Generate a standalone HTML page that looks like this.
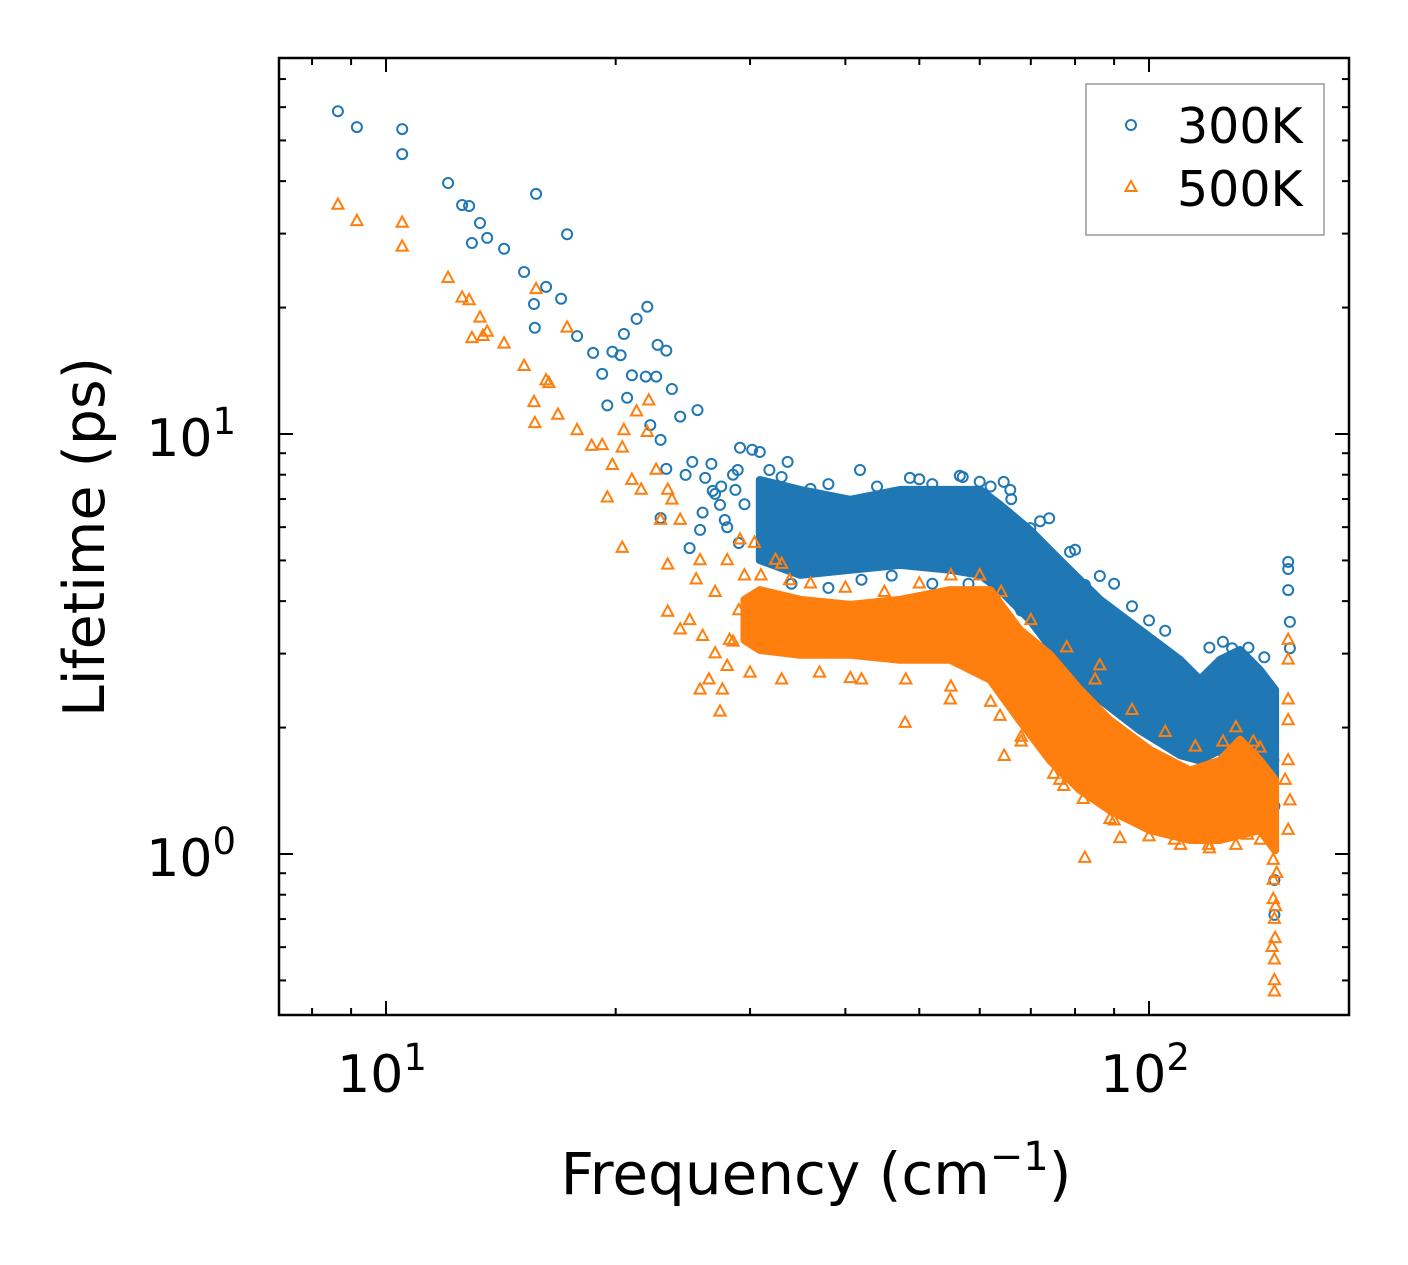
<!DOCTYPE html>
<html><head><meta charset="utf-8"><style>
body{margin:0;background:#fff}
svg{display:block;font-family:"DejaVu Sans","Liberation Sans",sans-serif}
</style></head><body>
<svg id="chart" width="1408" height="1265" viewBox="0 0 1408 1265">
<rect width="1408" height="1265" fill="#fff"/>
<g id="bands"></g>
<g id="pts300"></g>
<g id="pts500"></g>
<g id="axes"></g>
<text x="104" y="537" font-size="57" text-anchor="middle" transform="rotate(-90 104 537)">Lifetime (ps)</text>
<text x="816" y="1194" font-size="58" text-anchor="middle">Frequency (cm<tspan dy="-24" font-size="40">−1</tspan><tspan dy="24">)</tspan></text>
<g>
<rect x="1086" y="84" width="238" height="151" fill="#fff" stroke="#999" stroke-width="1.5"/>
<circle cx="1131" cy="125" r="5" fill="none" stroke="#1f77b4" stroke-width="2"/>
<text x="1177" y="143" font-size="49">300K</text>
<polygon points="1131,181 1136.5,191 1125.5,191" fill="none" stroke="#ff7f0e" stroke-width="2"/>
<text x="1177" y="206" font-size="49">500K</text>
</g>
</svg>
<script>
const blueBandFreq=[30.9,34.9,40.6,47.2,54.9,60.1,63.8,69.8,76.4,86.3,97.3,109.8,116.6,123.9,131.6,139.8,146.3];
const blueBandUpper=[7.77,7.36,6.97,7.36,7.36,7.36,6.78,5.91,5.01,4.03,3.42,2.90,2.60,2.90,3.06,2.74,2.46];
const blueBandLower=[5.01,4.62,4.75,4.88,4.75,4.62,4.25,3.61,2.90,2.33,1.97,1.72,1.67,1.77,1.77,1.67,1.50];
const orangeBandFreq=[29.5,30.9,34.9,40.6,47.2,54.9,61.9,67.7,74.2,81.2,88.9,100.3,113.2,123.9,131.6,139.8,146.3];
const orangeBandUpper=[4.03,4.25,4.03,3.92,4.03,4.25,4.25,3.42,2.98,2.46,2.08,1.77,1.58,1.67,1.87,1.67,1.50];
const orangeBandLower=[3.23,3.06,2.98,2.98,2.90,2.90,2.60,2.08,1.67,1.42,1.27,1.14,1.08,1.08,1.11,1.14,1.02];
const freq300=[8.65,9.16,10.5,10.5,12.06,12.58,12.85,13.28,12.96,13.57,14.28,15.73,15.17,16.21,16.96,15.63,15.67,17.27,17.8,18.68,19.2,19.8,20.3,20.5,21.3,22.0,19.5,20.7,21.0,21.9,22.6,22.7,23.3,23.7,24.3,25.6,22.2,22.9,23.3,24.7,25.2,26.7,26.2,26.8,27.4,27.8,29.1,30.2,30.9,28.9,31.8,33.6,25.8,25.0,22.9,28.7,41.8,48.6,56.5,64.5,65.8,69.9,78.8,86.2,95.0,82.4,128.5,152.2,152.2,152.2,153.0,153.0,141.6,144.2,145,145.5,146,146,146,
26,27,28,29,29.5,28.5,27.5,
33,36,38,44,50,52,57,60,62,66,72,74,80,90,100,105,120,125,135,
34,38,42,46,52,58,62,68,75,84,92,100,110,118,125,135,142];
const life300=[58.7,53.8,53.2,46.4,39.6,35.1,34.9,31.8,28.5,29.3,27.6,37.3,24.3,22.4,21.0,20.4,17.9,29.9,17.1,15.6,13.9,15.7,15.4,17.3,18.8,20.1,11.7,12.2,13.8,13.7,13.7,16.3,15.8,12.8,11.0,11.4,10.5,9.68,8.26,7.99,8.58,8.49,7.86,7.32,6.78,6.24,9.27,9.17,9.06,8.21,8.21,8.58,5.91,5.35,6.31,7.36,8.21,7.86,7.95,7.69,7.36,5.97,5.24,4.59,3.89,4.37,3.09,4.96,4.77,4.25,3.57,3.09,2.94,2.46,2.08,1.67,1.3,0.867,0.716,
6.5,7.2,6.0,5.5,6.8,8.0,7.5,
7.9,7.4,7.6,7.5,7.8,7.6,7.9,7.7,7.5,7.0,6.2,6.3,5.3,4.4,3.6,3.4,3.1,3.2,3.1,
4.4,4.3,4.5,4.6,4.4,4.4,4.1,3.8,3.0,2.5,2.2,1.95,1.8,1.7,1.75,1.65,1.55];
const freq500=[8.65,9.16,10.5,10.5,12.06,12.58,12.85,12.96,13.4,13.57,13.28,14.28,15.73,15.17,16.21,16.35,15.63,15.67,17.27,16.8,17.8,18.6,19.2,19.8,19.5,20.4,20.5,21.3,22.1,22.0,20.4,21.0,21.6,22.6,22.9,23.4,23.7,24.3,23.4,23.4,24.3,25.8,27.4,27.6,25.8,28.2,29.1,30.4,32.4,33.8,40.6,47.9,54.9,63.8,64.6,68.0,73.3,76.4,77.3,82.4,86.2,88.9,91.6,74.2,81.2,108,119.7,134.6,139.8,152.2,152.2,152.2,152.2,152.2,153,152.2,150.8,145.5,145.5,145.5,146,146.3,146,146,146,145,147,146.5,
25,26,27,28,26.5,28.5,29,27,25.5,28,29.5,
31,33,36,40,45,50,55,60,64,70,78,85,95,105,115,125,130,137,
30,33,37,42,48,55,62,68,75,82,90,100,110,120,130,140];
const life500=[35.1,32.1,31.8,27.9,23.5,21.1,20.8,16.9,17.1,17.5,18.9,16.4,22.1,14.5,13.4,13.2,11.9,10.6,17.9,11.1,10.2,9.36,9.4,8.43,7.05,9.27,10.2,11.3,12.0,10.1,5.35,7.77,7.36,8.21,6.24,7.36,6.97,6.24,4.88,3.77,3.42,2.46,2.18,2.46,5.0,3.23,5.60,5.5,5.01,4.48,2.62,2.05,2.33,2.13,1.71,1.85,2.90,1.50,1.45,0.978,2.81,1.21,1.09,2.14,2.33,1.08,1.05,1.11,1.79,2.90,3.23,2.33,2.08,1.67,1.34,1.14,1.50,0.967,0.867,0.78,0.70,0.63,0.56,0.50,0.47,0.60,0.90,0.75,
3.6,3.3,3.0,2.8,2.6,3.2,3.8,4.2,4.5,5.0,4.6,
4.6,4.9,4.4,4.3,4.2,4.4,4.6,4.6,4.2,3.6,3.1,2.6,2.2,1.95,1.8,1.85,2.0,1.85,
2.7,2.6,2.7,2.6,2.6,2.5,2.3,1.9,1.55,1.35,1.2,1.1,1.05,1.03,1.05,1.08];
const xTickVals=[10,100];
const yTickVals=[1,10];

const NS='http://www.w3.org/2000/svg';
const X0=386,XD=763,Y0=434,YD=420;
const L=279,R=1349,T=58,B=1015;
function xs(f){return X0+(Math.log10(f)-1)*XD;}
function ys(v){return Y0-(Math.log10(v)-1)*YD;}
function mk(tag,attrs,parent){const e=document.createElementNS(NS,tag);for(const k in attrs)e.setAttribute(k,attrs[k]);parent.appendChild(e);return e;}

const bands=document.getElementById('bands');
function band(fr,up,lo,color,name){
  let pts=fr.map((f,i)=>xs(f).toFixed(1)+','+ys(up[i]).toFixed(1));
  for(let i=fr.length-1;i>=0;i--)pts.push(xs(fr[i]).toFixed(1)+','+ys(lo[i]).toFixed(1));
  const p=mk('polygon',{points:pts.join(' '),fill:color,stroke:color,'stroke-width':8,'stroke-linejoin':'round'},bands);
  
  
}
band(blueBandFreq,blueBandUpper,blueBandLower,'#1f77b4','band-300k');

const g3=document.getElementById('pts300');
freq300.forEach((f,i)=>{
  const c=mk('circle',{cx:xs(f).toFixed(1),cy:ys(life300[i]).toFixed(1),r:5,fill:'none',stroke:'#1f77b4','stroke-width':2},g3);
  
  
});
band(orangeBandFreq,orangeBandUpper,orangeBandLower,'#ff7f0e','band-500k');
const g5=document.getElementById('pts500');
g5.parentNode.insertBefore(bands.lastChild,g5);
freq500.forEach((f,i)=>{
  const x=xs(f),y=ys(life500[i]);
  const t=mk('polygon',{points:`${x},${y-6.5} ${x+5.6},${y+3.8} ${x-5.6},${y+3.8}`,fill:'none',stroke:'#ff7f0e','stroke-width':2},g5);
  
  
});

const ax=document.getElementById('axes');
const frame=mk('rect',{x:L,y:T,width:R-L,height:B-T,fill:'none',stroke:'#000','stroke-width':2.5},ax);


function tick(x1,y1,x2,y2){const l=mk('line',{x1,y1,x2,y2,stroke:'#000','stroke-width':2},ax);
  
  }
for(let d=0;d<=2;d++){for(let m=1;m<10;m++){const v=m*Math.pow(10,d);const x=xs(v);if(x<L||x>R)continue;const len=m===1?14:7;tick(x,B,x,B-len);tick(x,T,x,T+len);}}
for(let d=-1;d<=1;d++){for(let m=1;m<10;m++){const v=m*Math.pow(10,d);const y=ys(v);if(y<T||y>B)continue;const len=m===1?14:7;tick(L,y,L+len,y);tick(R,y,R-len,y);}}
xTickVals.forEach(v=>{const e=Math.round(Math.log10(v));
  const t=mk('text',{x:xs(v)-4,y:1092,'font-size':52,'text-anchor':'middle'},ax);
  t.innerHTML='10<tspan dy="-22" font-size="37">'+e+'</tspan>';
  
  });
yTickVals.forEach(v=>{const e=Math.round(Math.log10(v));
  const t=mk('text',{x:236,y:ys(v)+22,'font-size':52,'text-anchor':'end'},ax);
  t.innerHTML='10<tspan dy="-22" font-size="37">'+e+'</tspan>';
  
  });
</script>
</body></html>
